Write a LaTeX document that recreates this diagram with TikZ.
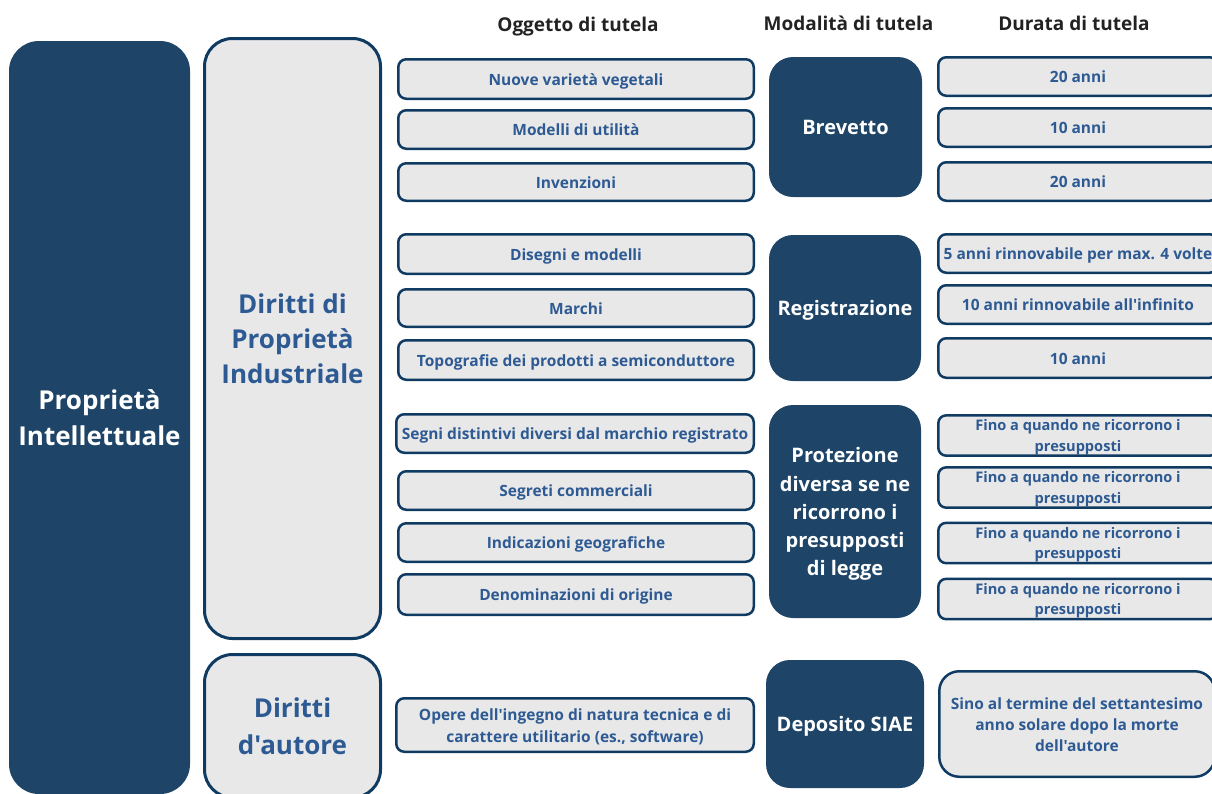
\documentclass[tikz,border=0pt]{standalone}
\usepackage{fontspec}
\setmainfont{Open Sans}[Ligatures=TeXOff]
\definecolor{cdark}{HTML}{1E4467}
\definecolor{cborder}{HTML}{0F3A62}
\definecolor{clight}{HTML}{E8E8E8}
\definecolor{ctext}{HTML}{2D5A93}
\definecolor{chead}{HTML}{222222}
\newcommand\fs{\rule[-0.29em]{0pt}{1.36em}}
\tikzset{
  base/.style={align=center, inner sep=0pt, execute at begin node=\fs, execute at end node=\fs},
  ml/.style={execute at begin node={}, execute at end node={}},
  bigdark/.style={base, fill=cdark, rounded corners=30pt, text=white, font=\fontsize{26}{35}\selectfont\bfseries},
  lightbig/.style={base, draw=cborder, line width=3pt, fill=clight, rounded corners=28pt, text=ctext, font=\fontsize{26}{35}\selectfont\bfseries, minimum width=176pt},
  obj/.style={base, draw=cborder, line width=2.5pt, fill=clight, rounded corners=8pt, text=ctext, font=\fontsize{15.5}{21}\selectfont\bfseries, minimum width=355.5pt},
  dur/.style={obj, minimum width=279.5pt},
  fino/.style={dur, ml, font=\fontsize{14.6}{20.5}\selectfont\bfseries},
  mode/.style={base, fill=cdark, rounded corners=24pt, text=white, font=\fontsize{20}{28.3}\selectfont\bfseries},
  head/.style={inner sep=0pt, text=chead, font=\fontsize{19}{24}\selectfont\bfseries, anchor=base}
}
\begin{document}
\begin{tikzpicture}[x=1pt,y=-1pt]
\useasboundingbox (0,0) rectangle (1212,793);
\clip (0,0) rectangle (1212,793);
% headers
\node[head] (h1) at (578,31) {Oggetto di tutela};
\node[head] (h2) at (848.5,30) {Modalità di tutela};
\node[head] (h3) at (1074,30) {Durata di tutela};
% left columns
\node[bigdark, ml, minimum width=181pt, minimum height=753pt] (pi) at (99.5,417.5) {\fs Proprietà\\Intellettuale\fs};
\node[lightbig, ml, minimum height=600pt] (dpi) at (292.5,338.5) {\fs Diritti di\\Proprietà\\Industriale\fs};
\node[lightbig, ml, minimum height=143pt] (da) at (292.5,726) {\fs Diritti\\d'autore\fs};
% objects
\node[obj, minimum height=39.5pt] (o1) at (576,79) {Nuove varietà vegetali};
\node[obj, minimum height=38.5pt] (o2) at (576,129.5) {Modelli di utilità};
\node[obj, minimum height=37.5pt] (o3) at (576,182) {Invenzioni};
\node[obj, minimum height=39.5pt] (o4) at (576,254) {Disegni e modelli};
\node[obj, minimum height=37.5pt] (o5) at (576,308) {Marchi};
\node[obj, minimum height=39.5pt] (o6) at (576,360) {Topografie dei prodotti a semiconduttore};
\node[obj, minimum height=38.5pt, minimum width=357.5pt] (o7) at (575,433.5) {Segni distintivi diversi dal marchio registrato};
\node[obj, minimum height=38.5pt] (o8) at (576,490.5) {Segreti commerciali};
\node[obj, minimum height=38.5pt] (o9) at (576,542.5) {Indicazioni geografiche};
\node[obj, minimum height=40.5pt] (o10) at (576,594.5) {Denominazioni di origine};
\node[obj, ml, minimum height=53.5pt, minimum width=357.5pt] (o11) at (575,725) {\fs Opere dell'ingegno di natura tecnica e di\\carattere utilitario (es., software)\fs};
% modes
\node[mode, minimum width=153pt, minimum height=140pt] (m1) at (845.5,127) {Brevetto};
\node[mode, minimum width=152pt, minimum height=146pt] (m2) at (845,308) {Registrazione};
\node[mode, ml, minimum width=152pt, minimum height=213pt] (m3) at (845,511.5) {\fs Protezione\\diversa se ne\\ricorrono i\\presupposti\\di legge\fs};
\node[mode, minimum width=158pt, minimum height=128pt] (m4) at (845,724) {Deposito SIAE};
% durations
\node[dur, minimum height=38.5pt] (d1) at (1078,76.5) {20 anni};
\node[dur, minimum height=38.5pt] (d2) at (1078,127.5) {10 anni};
\node[dur, minimum height=38.5pt] (d3) at (1078,181.5) {20 anni};
\node[dur, minimum height=38.5pt] (d4) at (1078,253.5) {5 anni rinnovabile per max. 4 volte};
\node[dur, minimum height=38.5pt] (d5) at (1078,304.5) {10 anni rinnovabile all'infinito};
\node[dur, minimum height=39.5pt] (d6) at (1078,358) {10 anni};
\node[fino, minimum height=38.5pt] (d7) at (1078,435.5) {\fs Fino a quando ne ricorrono i\\presupposti\fs};
\node[fino, minimum height=38.5pt] (d8) at (1078,487.5) {\fs Fino a quando ne ricorrono i\\presupposti\fs};
\node[fino, minimum height=39.5pt] (d9) at (1078,543) {\fs Fino a quando ne ricorrono i\\presupposti\fs};
\node[fino, minimum height=39.5pt] (d10) at (1078,599) {\fs Fino a quando ne ricorrono i\\presupposti\fs};
\node[dur, ml, minimum height=105.5pt, minimum width=275.5pt, rounded corners=20pt] (d11) at (1077,724) {\fs Sino al termine del settantesimo\\anno solare dopo la morte\\dell'autore\fs};
\end{tikzpicture}
\end{document}
